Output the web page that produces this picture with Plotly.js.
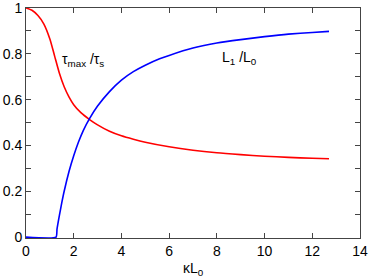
<!DOCTYPE html>
<html><head><meta charset="utf-8">
<script src="https://cdn.plot.ly/plotly-3.0.1.min.js"></script>
<style>html,body{margin:0;padding:0;background:#fff}#chart{width:369px;height:279px}</style>
</head><body><div id="chart"></div>
<script>
const tauX = [0, 0.25, 0.5, 0.75, 1.0, 1.2, 1.4, 1.6, 1.8, 2.0, 2.3, 2.65, 3.0, 3.5, 4.0, 4.5, 5.0, 6.0, 7.0, 8.0, 9.0, 10.0, 11.0, 12.0, 12.7];
const tauY = [1.0, 0.99, 0.967, 0.93, 0.865, 0.79, 0.715, 0.656, 0.612, 0.578, 0.543, 0.514, 0.49, 0.462, 0.442, 0.427, 0.414, 0.394, 0.379, 0.368, 0.36, 0.353, 0.348, 0.344, 0.342];
const lenX = [0, 1.26, 1.3, 1.4, 1.5, 1.6, 1.8, 2.0, 2.2, 2.4, 2.65, 3.0, 3.5, 4.0, 4.5, 5.0, 5.6, 6.0, 7.0, 8.0, 9.0, 10.0, 11.0, 12.0, 12.7];
const lenY = [0, 0, 0.035, 0.095, 0.15, 0.2, 0.285, 0.355, 0.415, 0.465, 0.515, 0.572, 0.635, 0.685, 0.722, 0.75, 0.778, 0.793, 0.825, 0.847, 0.862, 0.875, 0.886, 0.893, 0.898];
const yTickVals = [0, 0.1, 0.2, 0.3, 0.4, 0.5, 0.6, 0.7, 0.8, 0.9, 1];
const yTickText = ["0", "", "0.2", "", "0.4", "", "0.6", "", "0.8", "", "1"];
const xTickVals = [0, 2, 4, 6, 8, 10, 12, 14];
const labelTau = "τ<sub>max</sub> /τ<sub>s</sub>";
const labelLen = "L<sub>1</sub> /L<sub>0</sub>";
const xTitle = "κL<sub>0</sub>";

const font = {family: "Liberation Sans, Arial, sans-serif", size: 14, color: "#000"};
const traces = [
  {x: tauX, y: tauY, mode: "lines", line: {color: "#ff0000", width: 1.6, shape: "spline", smoothing: 0.7}, hoverinfo: "skip"},
  {x: lenX, y: lenY, mode: "lines", line: {color: "#0000ff", width: 1.6, shape: "spline", smoothing: 0.5}, hoverinfo: "skip"}
];
const axisCommon = {showgrid: false, zeroline: false, showline: true, linecolor: "#444", linewidth: 1,
  mirror: "ticks", ticks: "inside", ticklen: 5, tickcolor: "#444", tickfont: font,
  ticklabeloverflow: "allow", layer: "below traces"};
const layout = {
  width: 369, height: 279,
  margin: {l: 26, r: 9, t: 8, b: 41},
  paper_bgcolor: "#fff", plot_bgcolor: "#fff",
  showlegend: false,
  font: font,
  xaxis: Object.assign({}, axisCommon, {range: [0, 14], tickmode: "array", tickvals: xTickVals,
    title: {text: xTitle, font: font, standoff: 5}}),
  yaxis: Object.assign({}, axisCommon, {range: [-0.004, 1], tickmode: "array", tickvals: yTickVals, ticktext: yTickText}),
  annotations: [
    {x: 2.4, y: 0.775, xref: "x", yref: "y", text: labelTau, showarrow: false, font: font},
    {x: 8.95, y: 0.78, xref: "x", yref: "y", text: labelLen, showarrow: false, font: font}
  ]
};
Plotly.newPlot("chart", traces, layout, {displayModeBar: false, staticPlot: true});
</script></body></html>
